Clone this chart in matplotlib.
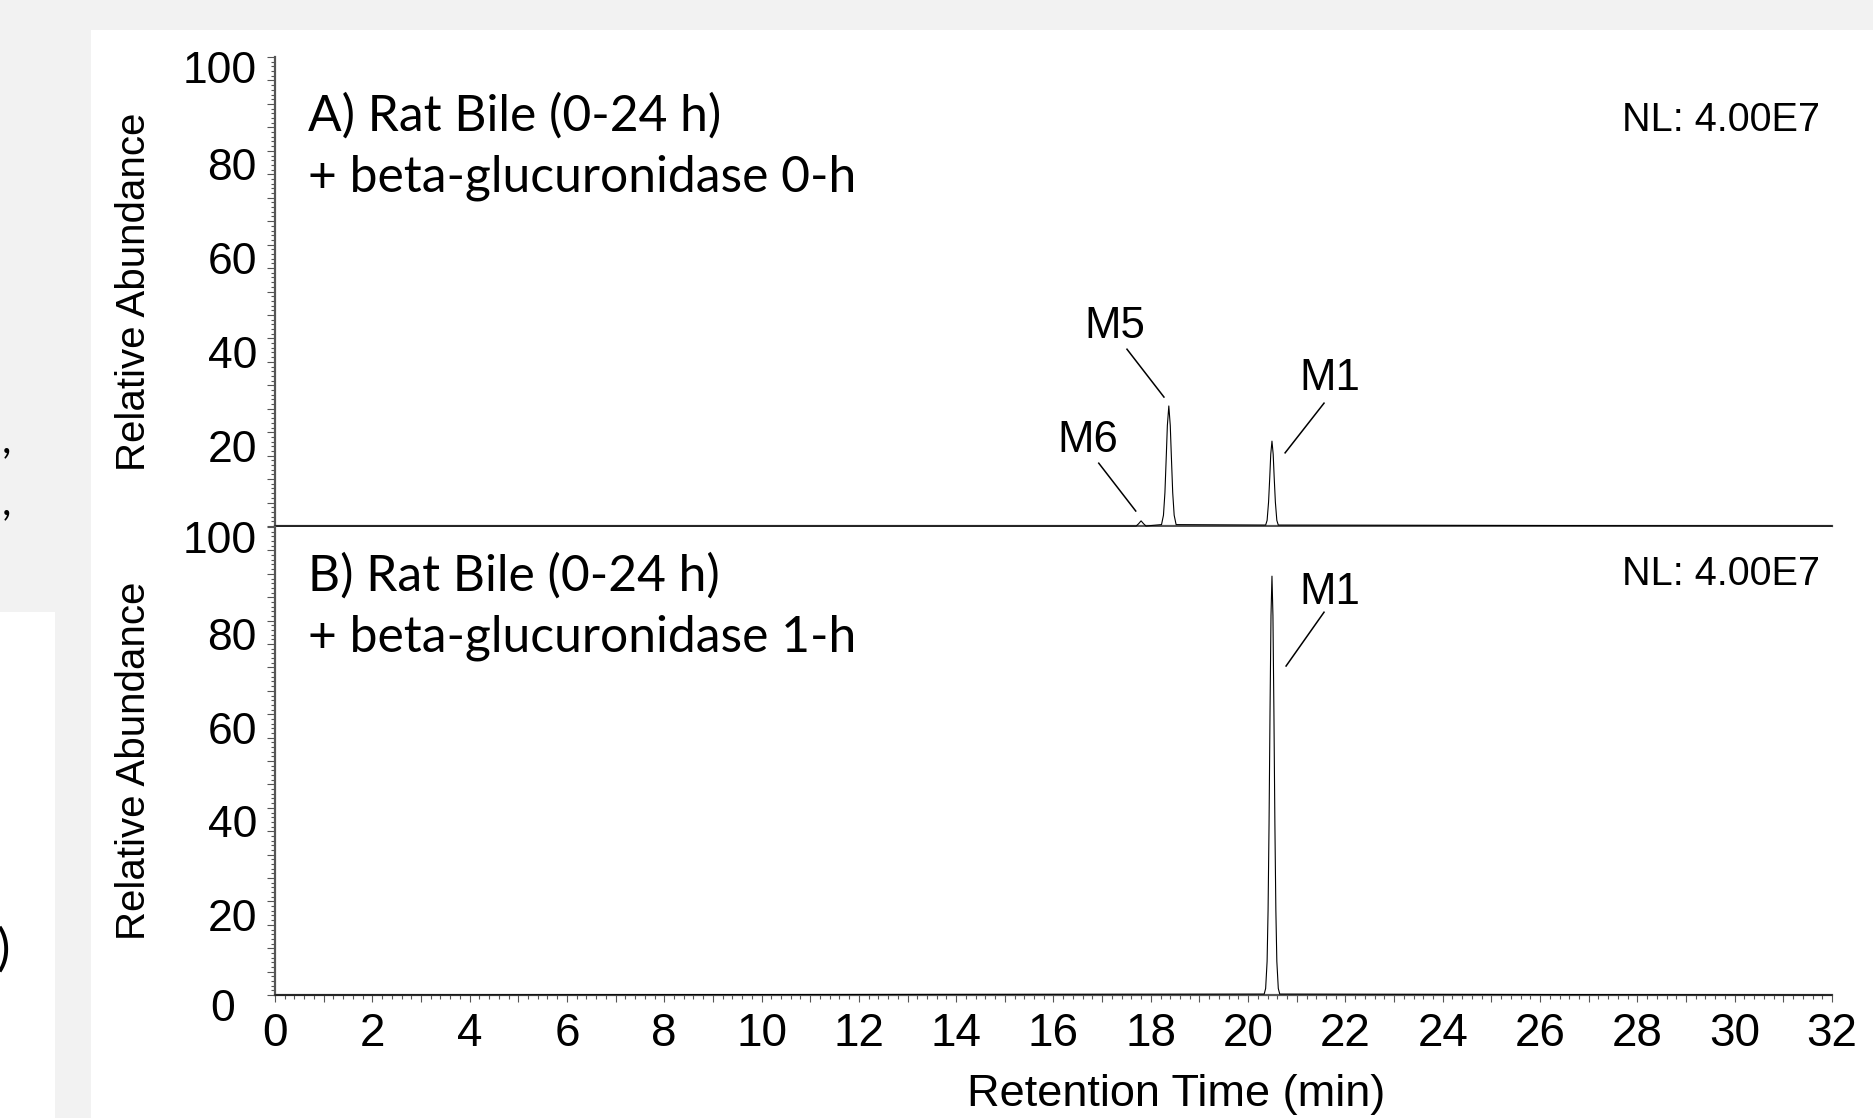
import matplotlib
matplotlib.use("Agg")
import matplotlib.pyplot as plt
from matplotlib.patches import Rectangle
from matplotlib.ticker import MultipleLocator, FuncFormatter, NullFormatter

# chromatogram A: rat bile 0-24 h + beta-glucuronidase 0-h
time_a = [0.0, 17.70, 17.75, 17.80, 17.85, 17.90,
          18.22, 18.26, 18.29, 18.32, 18.34, 18.37, 18.40, 18.42, 18.45, 18.48, 18.52,
          20.36, 20.39, 20.42, 20.445, 20.465, 20.49, 20.515, 20.535, 20.56, 20.59, 20.62,
          32.0]
abund_a = [0, 0, 0.5, 1.1, 0.5, 0,
           0.3, 2.3, 7.1, 15.5, 21.4, 25.6, 21.4, 15.5, 7.1, 2.3, 0.3,
           0.2, 1.2, 5.1, 10.5, 15.3, 18.1, 15.3, 10.5, 5.1, 1.2, 0.2,
           0]

# chromatogram B: + beta-glucuronidase 1-h
time_b = [0.0, 20.33, 20.36, 20.39, 20.41, 20.43, 20.45, 20.47, 20.49,
          20.51, 20.53, 20.55, 20.57, 20.59, 20.62, 20.65, 32.0]
abund_b = [0, 0.2, 1.4, 7.2, 18.1, 36.5, 60.5, 81.1, 89.5,
           81.1, 60.5, 36.5, 18.1, 7.2, 1.4, 0.2, 0]

# peak labels: name, text x/y, leader start, leader end
peaks_a = [("M6", 16.71, 15.8, (16.93, 13.4), (17.69, 3.2)),
           ("M5", 17.26, 40.1, (17.51, 37.7), (18.27, 27.5)),
           ("M1", 21.68, 29.0, (21.56, 26.2), (20.76, 15.6))]
peaks_b = [("M1", 21.68, 83.5, (21.56, 81.8), (20.78, 70.3))]

titles_a = ["A) Rat Bile (0-24 h)", "+ beta-glucuronidase 0-h"]
titles_b = ["B) Rat Bile (0-24 h)", "+ beta-glucuronidase 1-h"]
nl_text = "NL: 4.00E7"
ytick_vals_a = [20, 40, 60, 80, 100]
ytick_vals_b = [0, 20, 40, 60, 80, 100]

SANS = ["Liberation Sans", "DejaVu Sans"]
CAL = ["Lato", "Open Sans", "DejaVu Sans"]
GREY = "#555555"

fig = plt.figure(figsize=(18.74, 11.18), dpi=100, facecolor="#f2f2f2")

# white slide panels behind the chart
fig.add_artist(Rectangle((91 / 1874, 0), 1 - 91 / 1874, 1 - 30 / 1118,
                         transform=fig.transFigure, facecolor="white", edgecolor="none", zorder=0))
fig.add_artist(Rectangle((0, 0), 55 / 1874, 1 - 612 / 1118,
                         transform=fig.transFigure, facecolor="white", edgecolor="none", zorder=0))
# leftovers of neighbouring slide text
fig.text(6 / 1874, 1 - 440 / 1118, ",", family=CAL, fontsize=30, ha="center", va="center")
fig.text(6 / 1874, 1 - 502 / 1118, ",", family=CAL, fontsize=30, ha="center", va="center")
fig.text(10 / 1874, 1 - 950 / 1118, ")", family=CAL, fontsize=36, ha="right", va="center")

ax_a = fig.add_axes([275 / 1874, 0.5295, 1557 / 1874, 0.4195])
ax_b = fig.add_axes([275 / 1874, 0.1100, 1557 / 1874, 0.4186])

for ax, t, y, peaks, ticks in [(ax_a, time_a, abund_a, peaks_a, ytick_vals_a),
                               (ax_b, time_b, abund_b, peaks_b, ytick_vals_b)]:
    ax.set_facecolor("white")
    ax.plot(t, y, color="black", lw=0.8, clip_on=False, zorder=3)
    ax.set_xlim(0, 32)
    ax.set_ylim(0, 100)
    for s in ["top", "right"]:
        ax.spines[s].set_visible(False)
    for s in ["left", "bottom"]:
        ax.spines[s].set_color(GREY)
        ax.spines[s].set_linewidth(1.6)

    ax.yaxis.set_major_locator(MultipleLocator(5))
    ax.yaxis.set_minor_locator(MultipleLocator(1))
    ax.yaxis.set_major_formatter(NullFormatter())
    ax.tick_params(axis="y", which="major", length=5.5, width=0.8, color=GREY)
    ax.tick_params(axis="y", which="minor", length=3, width=0.8, color=GREY)

    # y labels sit a little below their tick, as in the Xcalibur export
    for v in ticks:
        dx = -0.026 if v == 0 else -0.0116
        dy = 3.1 if v in (0, 100) else 3.8
        ax.text(dx, v - dy, str(v), transform=ax.get_yaxis_transform(),
                ha="right", va="center", family=SANS, fontsize=32)

    ax.set_ylabel("Relative Abundance", family=SANS, fontsize=29)
    ax.yaxis.label.set_verticalalignment("center")
    ax.yaxis.set_label_coords(-0.0906, 0.5)

    for name, tx, ty, p0, p1 in peaks:
        ax.text(tx, ty, name, ha="center", va="baseline", family=SANS, fontsize=31.5)
        ax.plot([p0[0], p1[0]], [p0[1], p1[1]], color="black", lw=1.1)

ax_a.tick_params(axis="x", which="both", length=0, labelbottom=False)

ax_b.xaxis.set_major_locator(MultipleLocator(1))
ax_b.xaxis.set_minor_locator(MultipleLocator(0.2))
ax_b.xaxis.set_major_formatter(FuncFormatter(lambda v, p: "%d" % v if round(v) % 2 == 0 else ""))
ax_b.tick_params(axis="x", which="major", length=5, width=0.8, color=GREY, pad=7, labelsize=33)
ax_b.tick_params(axis="x", which="minor", length=3, width=0.8, color=GREY)
for lab in ax_b.get_xticklabels():
    lab.set_family(SANS)
ax_b.set_xlabel("Retention Time (min)", family=SANS, fontsize=32.5)
ax_b.xaxis.label.set_verticalalignment("center")
ax_b.xaxis.set_label_coords(0.579, -0.212)

# panel titles (Calibri-like) and normalisation levels
title_texts = []
for ax, lines, y1, y2 in [(ax_a, titles_a, 0.844, 0.714), (ax_b, titles_b, 0.865, 0.733)]:
    title_texts.append(ax.text(0.021, y1, lines[0], transform=ax.transAxes, family=CAL,
                               fontsize=36, ha="left", va="baseline"))
    title_texts.append(ax.text(0.021, y2, lines[1], transform=ax.transAxes, family=CAL,
                               fontsize=36, ha="left", va="baseline"))
ax_a.text(0.992, 0.866, nl_text, transform=ax_a.transAxes, family=SANS, fontsize=28.5,
          ha="right", va="center")
ax_b.text(0.992, 0.900, nl_text, transform=ax_b.transAxes, family=SANS, fontsize=28.5,
          ha="right", va="center")

# fit the title font so the first line is as wide as in the slide
fig.canvas.draw()
w = title_texts[0].get_window_extent().width
size = 36 * 413 / w
for tt in title_texts:
    tt.set_fontsize(size)

fig.savefig("out.png", dpi=100, facecolor=fig.get_facecolor())
